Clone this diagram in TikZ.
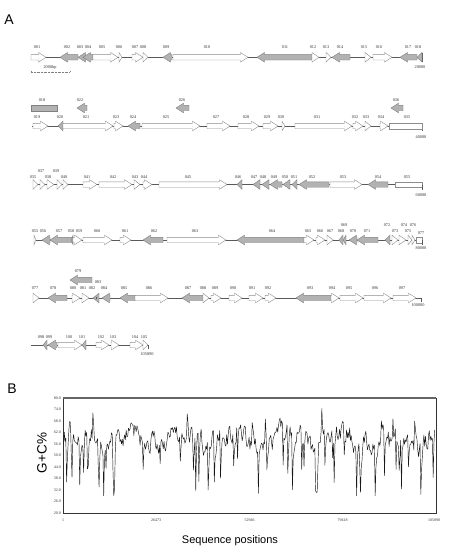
\documentclass[tikz,border=0pt]{standalone}
\usepackage{fontspec}
\setmainfont{Liberation Serif}
\newfontfamily\arialfont{Liberation Sans}
\usepackage{tikz}
\def\gene[#1](#2:#3:#4){\pgfmathsetmacro\glen{abs(#3-#2)}\pgfmathsetmacro\ghd{min(7.5,\glen)}\pgfmathsetmacro\gneck{(#3>#2) ? #3-\ghd : #3+\ghd}\draw[#1] (#2,#4-2.7) -- (\gneck,#4-2.7) -- (\gneck,#4-4.8) -- (#3,#4) -- (\gneck,#4+4.8) -- (\gneck,#4+2.7) -- (#2,#4+2.7) -- cycle;}
\def\cut[#1](#2:#3:#4){\draw[#1] (#2,#4-2.7) rectangle (#3,#4+2.7);}
\tikzset{
	wgene/.style={draw=black!45, fill=white, line width=0.4pt},
	ggene/.style={draw=black!50, fill=black!30, line width=0.4pt},
	backbone/.style={draw=black!65, line width=0.9pt},
	glabel/.style={font=\fontsize{4.3}{4.3}\selectfont, inner sep=0pt, text=black!80},
	ticklabel/.style={font=\fontsize{4}{4}\selectfont, inner sep=0pt, text=black!80},
	panel/.style={font=\arialfont\fontsize{14}{14}\selectfont, inner sep=0pt}
}

\begin{document}
\begin{tikzpicture}[x=1pt, y=-1pt]
		\useasboundingbox[fill=white] (0,0) rectangle (450,549);
		%%%%% PANEL A %%%%%
		\node[panel] (pA) at (9,20) {A};
		
		%%%%% ROW 1 %%%%%
		\draw[backbone] (31,57.3) -- (422,57.3);
		\draw[black!65, line width=0.6pt] (422,52.5) -- (422,62);
		\gene[wgene](31:46:57.3);
		\gene[ggene](78:60:57.3);
		\gene[ggene](86:78:57.3);
		\gene[ggene](93:83:57.3);
		\gene[wgene](93:118:57.3);
		\gene[wgene](119:122:57.3);
		\gene[wgene](132:143:57.3);
		\gene[wgene](143:148:57.3);
		\gene[ggene](172:163:57.3);
		\gene[wgene](173:248:57.3);
		\gene[ggene](312:257:57.3);
		\gene[wgene](312:319:57.3);
		\gene[wgene](326:331:57.3);
		\gene[ggene](350:332:57.3);
		\gene[wgene](365:371:57.3);
		\gene[wgene](373:392:57.3);
		\gene[ggene](417:400:57.3);
		\gene[ggene](422:417:57.3);
		\node[glabel] (l001) at (37,47.5) {001};
		\node[glabel] (l002) at (67,47.5) {002};
		\node[glabel] (l003) at (80,47.5) {003};
		\node[glabel] (l004) at (88,47.5) {004};
		\node[glabel] (l005) at (102,47.5) {005};
		\node[glabel] (l006) at (119,47.5) {006};
		\node[glabel] (l007) at (135,47.5) {007};
		\node[glabel] (l008) at (143,47.5) {008};
		\node[glabel] (l009) at (166,47.5) {009};
		\node[glabel] (l010) at (207,47.5) {010};
		\node[glabel] (l011) at (285,47.5) {011};
		\node[glabel] (l012) at (313,47.5) {012};
		\node[glabel] (l013) at (326,47.5) {013};
		\node[glabel] (l014) at (340,47.5) {014};
		\node[glabel] (l015) at (364,47.5) {015};
		\node[glabel] (l016) at (379,47.5) {016};
		\node[glabel] (l017) at (408,47.5) {017};
		\node[glabel] (l018) at (418,47.5) {018};
		\node[glabel] (e20000) at (420,67) {20000};
		% scale bar
		\draw[black!50, line width=0.4pt, densely dotted] (31,72) -- (70,72);
		\draw[black!50, line width=0.4pt] (31,70.5) -- (31,72) (70,70.5) -- (70,72);
		\node[glabel] (sbar) at (50,67.5) {2000bp};
		
		%%%%% ROW 2 %%%%%
		\cut[ggene](31:57:108);
		\gene[ggene](87:77:108);
		\gene[ggene](189:176:108);
		\gene[ggene](403:391:108);
		\node[glabel] (u018) at (42,100) {018};
		\node[glabel] (l022) at (80,100) {022};
		\node[glabel] (l026) at (182,100) {026};
		\node[glabel] (l036) at (396,100) {036};
		\draw[backbone] (32,126) -- (422,126);
		\draw[black!65, line width=0.6pt] (422,123.3) -- (422,131);
		\gene[wgene](33:48:126);
		\gene[ggene](63:58:126);
		\gene[wgene](63:113:126);
		\gene[wgene](114:123:126);
		\gene[ggene](140:128:126);
		\gene[wgene](142:200:126);
		\gene[wgene](207:230:126);
		\gene[wgene](238:259:126);
		\gene[wgene](263:278:126);
		\gene[wgene](282:285:126);
		\gene[wgene](295:352:126);
		\gene[wgene](353:363:126);
		\gene[wgene](365:371:126);
		\gene[wgene](380:388:126);
		\cut[wgene](389:422:126);
		\node[glabel] (l019) at (37,117) {019};
		\node[glabel] (l020) at (60,117) {020};
		\node[glabel] (l021) at (86,117) {021};
		\node[glabel] (l023) at (116,117) {023};
		\node[glabel] (l024) at (133,117) {024};
		\node[glabel] (l025) at (166,117) {025};
		\node[glabel] (l027) at (216,117) {027};
		\node[glabel] (l028) at (246,117) {028};
		\node[glabel] (l029) at (267,117) {029};
		\node[glabel] (l030) at (281,117) {030};
		\node[glabel] (l031) at (317,117) {031};
		\node[glabel] (l032) at (355,117) {032};
		\node[glabel] (l033) at (366,117) {033};
		\node[glabel] (l034) at (381,117) {034};
		\node[glabel] (l035) at (407,117) {035};
		\node[glabel] (e40000) at (421,137.5) {40000};
		
		%%%%% ROW 3 %%%%%
		\draw[backbone] (33,184.5) -- (422,184.5);
		\gene[wgene](33:38:184.5);
		\gene[wgene](40:45:184.5);
		\gene[wgene](47:54:184.5);
		\gene[wgene](57:62:184.5);
		\gene[wgene](63:68:184.5);
		\gene[wgene](83:97:184.5);
		\gene[wgene](99:132:184.5);
		\gene[wgene](134:140:184.5);
		\gene[wgene](143:152:184.5);
		\gene[wgene](159:227:184.5);
		\gene[ggene](242:237:184.5);
		\gene[ggene](260:253:184.5);
		\gene[ggene](269:262:184.5);
		\gene[ggene](282:270:184.5);
		\gene[ggene](290:283:184.5);
		\gene[ggene](297:292:184.5);
		\gene[ggene](329:299:184.5);
		\gene[wgene](330:362:184.5);
		\gene[ggene](388:368:184.5);
		\cut[wgene](395:422:184.5);
		\draw[black!65, line width=0.6pt] (422,184.5) -- (422,189.5);
		\node[glabel] (r035) at (33,177) {035};
		\node[glabel] (l037) at (41,171) {037};
		\node[glabel] (l038) at (48,177) {038};
		\node[glabel] (l039) at (56,171) {039};
		\node[glabel] (l040) at (64,177) {040};
		\node[glabel] (l041) at (87,177) {041};
		\node[glabel] (l042) at (113,177) {042};
		\node[glabel] (l043) at (135,177) {043};
		\node[glabel] (l044) at (144,177) {044};
		\node[glabel] (l045) at (188,177) {045};
		\node[glabel] (l046) at (238,177) {046};
		\node[glabel] (l047) at (254,177) {047};
		\node[glabel] (l048) at (263,177) {048};
		\node[glabel] (l049) at (274,177) {049};
		\node[glabel] (l050) at (285,177) {050};
		\node[glabel] (l051) at (294,177) {051};
		\node[glabel] (l052) at (312,177) {052};
		\node[glabel] (l053) at (343,177) {053};
		\node[glabel] (l054) at (378,177) {054};
		\node[glabel] (l055) at (407,177) {055};
		\node[glabel] (e60000) at (421,195) {60000};
		
		%%%%% ROW 4 %%%%%
		\draw[backbone] (34,240) -- (422,240);
		\gene[wgene](34:36:240);
		\gene[ggene](50:42:240);
		\gene[ggene](72:50:240);
		\gene[ggene](73:71.5:240);
		\gene[wgene](73:82:240);
		\gene[wgene](83:112:240);
		\gene[wgene](120:131:240);
		\gene[ggene](163:143:240);
		\gene[wgene](167:226:240);
		\gene[ggene](304:237:240);
		\gene[wgene](304:314:240);
		\gene[wgene](316:325:240);
		\gene[wgene](327:333:240);
		\gene[ggene](343:339:240);
		\gene[ggene](346:343:240);
		\gene[ggene](357:349:240);
		\gene[ggene](378:357:240);
		\gene[ggene](390:385:240);
		\gene[wgene](392:398:240);
		\gene[wgene](399:406:240);
		\gene[wgene](408:412:240);
		\gene[wgene](412:415:240);
		\cut[wgene](416:422:240);
		\draw[black!65, line width=0.6pt] (422,240) -- (422,244.5);
		\node[glabel] (r055) at (35,230.7) {055};
		\node[glabel] (l056) at (43,230.7) {056};
		\node[glabel] (l057) at (59,230.7) {057};
		\node[glabel] (l058) at (71,230.7) {058};
		\node[glabel] (l059) at (79,230.7) {059};
		\node[glabel] (l060) at (97,230.7) {060};
		\node[glabel] (l061) at (125,230.7) {061};
		\node[glabel] (l062) at (154,230.7) {062};
		\node[glabel] (l063) at (195,230.7) {063};
		\node[glabel] (l064) at (272,230.7) {064};
		\node[glabel] (l065) at (308,230.7) {065};
		\node[glabel] (l066) at (320,230.7) {066};
		\node[glabel] (l067) at (330,230.7) {067};
		\node[glabel] (l068) at (341,230.7) {068};
		\node[glabel] (l069) at (344,225) {069};
		\node[glabel] (l070) at (353,230.7) {070};
		\node[glabel] (l071) at (367,230.7) {071};
		\node[glabel] (l072) at (387,225) {072};
		\node[glabel] (l073) at (395,230.7) {073};
		\node[glabel] (l074) at (404,225) {074};
		\node[glabel] (l075) at (408,230.7) {075};
		\node[glabel] (l076) at (413,225) {076};
		\node[glabel] (l077) at (421,233) {077};
		\node[glabel] (e80000) at (421,248) {80000};
		
		%%%%% ROW 5 %%%%%
		\gene[ggene](92:70:280);
		\node[glabel] (l079) at (78,271) {079};
		\node[glabel] (l083) at (98,282) {083};
		\draw[backbone] (33,298) -- (421,298);
		\draw[black!65, line width=0.6pt] (421,298) -- (421,302);
		\gene[wgene](33:39:298);
		\gene[ggene](67:48:298);
		\gene[wgene](72:80:298);
		\gene[wgene](82:89:298);
		\gene[ggene](99:93:298);
		\fill[black] (96.5,298) circle (0.6);
		\gene[ggene](110:102:298);
		\gene[ggene](135:120:298);
		\gene[wgene](135:168:298);
		\gene[ggene](203:182:298);
		\gene[wgene](203:209:298);
		\gene[wgene](211:221:298);
		\gene[wgene](229:242:298);
		\gene[wgene](249:263:298);
		\gene[wgene](265:276:298);
		\gene[ggene](331:296:298);
		\gene[wgene](331:339:298);
		\gene[wgene](340:363:298);
		\gene[wgene](364:391:298);
		\gene[wgene](393:416:298);
		\node[glabel] (r077) at (35,288.3) {077};
		\node[glabel] (l078) at (53,288.3) {078};
		\node[glabel] (l080) at (73,288.3) {080};
		\node[glabel] (l081) at (83,288.3) {081};
		\node[glabel] (l082) at (92,288.3) {082};
		\node[glabel] (l084) at (104,288.3) {084};
		\node[glabel] (l085) at (124,288.3) {085};
		\node[glabel] (l086) at (149,288.3) {086};
		\node[glabel] (l087) at (188,288.3) {087};
		\node[glabel] (l088) at (203,288.3) {088};
		\node[glabel] (l089) at (215,288.3) {089};
		\node[glabel] (l090) at (233,288.3) {090};
		\node[glabel] (l091) at (252,288.3) {091};
		\node[glabel] (l092) at (268,288.3) {092};
		\node[glabel] (l093) at (310,288.3) {093};
		\node[glabel] (l094) at (332,288.3) {094};
		\node[glabel] (l095) at (349,288.3) {095};
		\node[glabel] (l096) at (375,288.3) {096};
		\node[glabel] (l097) at (402,288.3) {097};
		\node[glabel] (e100000) at (418,305) {100000};
		
		%%%%% ROW 6 %%%%%
		\draw[backbone] (31,345) -- (148,345);
		\gene[ggene](47:43:345);
		\gene[ggene](57:48:345);
		\gene[wgene](58:82:345);
		\gene[ggene](86:82:345);
		\gene[wgene](96:109:345);
		\gene[wgene](111:119:345);
		\gene[wgene](130:143:345);
		\gene[wgene](143:148:345);
		\draw[black!65, line width=0.6pt] (148,345) -- (148,349);
		\node[glabel] (l098) at (41,337) {098};
		\node[glabel] (l099) at (49,337) {099};
		\node[glabel] (l100) at (69,337) {100};
		\node[glabel] (l101) at (82,337) {101};
		\node[glabel] (l102) at (101,337) {102};
		\node[glabel] (l103) at (113,337) {103};
		\node[glabel] (l104) at (135,337) {104};
		\node[glabel] (l105) at (144,337) {105};
		\node[glabel] (e105890) at (147,354) {105890};
		
		%%%%% PANEL B %%%%%
		\node[panel] (pB) at (12,389) {B};
		\draw[black!80, line width=0.4pt] (63,398) rectangle (436,513);
		\draw[black!60, line width=1.3pt] (63,398) -- (436,398);
		\foreach \gcval [count=\k from 0] in {80.0,74.0,68.0,62.0,56.0,50.0,44.0,38.0,32.0,26.0,20.0}{
			\node[ticklabel, anchor=east] (yt\k) at (61,398+11.5*\k) {\gcval};
		}
		\node[ticklabel] (xt0) at (63,520) {1};
		\node[ticklabel] (xt1) at (156,520) {26473};
		\node[ticklabel] (xt2) at (249.5,520) {52946};
		\node[ticklabel] (xt3) at (342.5,520) {79418};
		\node[ticklabel] (xt4) at (434,520) {105890};
		\node[font=\arialfont\fontsize{11}{11}\selectfont, inner sep=0pt] (xname) at (230,541) {Sequence positions};
		\node[font=\arialfont\fontsize{13.5}{13.5}\selectfont, inner sep=0pt, rotate=90] (yname) at (42,453) {G+C\%};
		% gc curve
		\pgfmathsetseed{2718}
		\xdef\gcprev{59}\xdef\gcdip{0}\xdef\gcpts{}
		\foreach \i in {0,...,480}{
			\pgfmathsetmacro\gcbase{0.5*\gcprev+0.5*(59+3*sin(\i*5.3)+2*sin(\i*13.1))+4.6*rand}
			\pgfmathsetmacro\gcr{rnd}
			\pgfmathsetmacro\gcnew{(\gcr<0.1) ? -(10+18*rnd) : ((\gcr>0.975) ? 7+6*rnd : 0)}
			\pgfmathsetmacro\gcd{0.35*\gcdip+\gcnew}
			\pgfmathsetmacro\gcv{max(29,min(74.5,\gcbase+\gcd))}
			\pgfmathsetmacro\gcx{63.5+0.77339*\i}
			\pgfmathsetmacro\gcy{513-(\gcv-20)*1.91667}
			\xdef\gcprev{\gcbase}\xdef\gcdip{\gcd}
			\xdef\gcpts{\gcpts (\gcx,\gcy)}
		}
		\draw[black!90, line width=0.45pt, line join=round] plot coordinates {\gcpts};
\end{tikzpicture}
\end{document}
